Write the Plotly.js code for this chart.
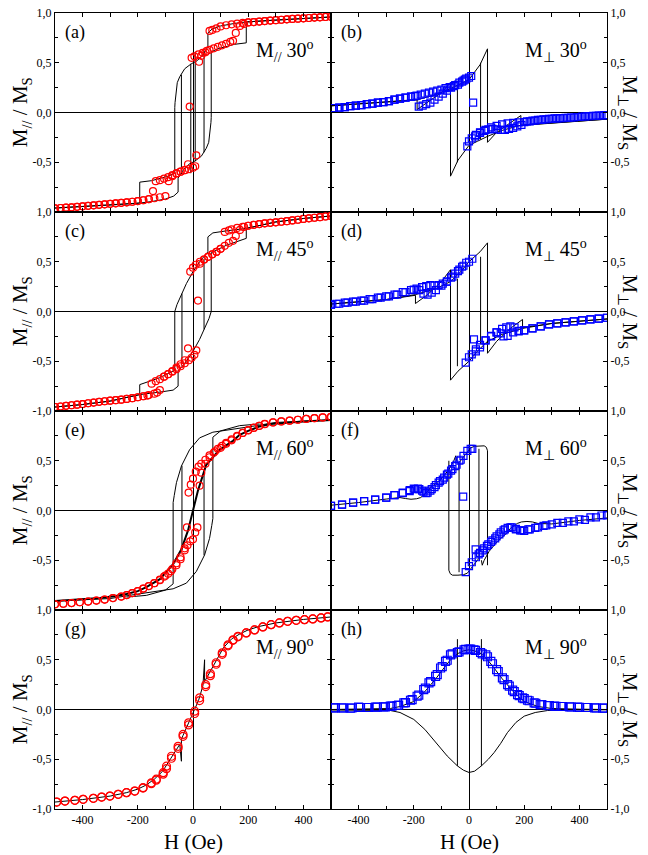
<!DOCTYPE html>
<html>
<head>
<meta charset="utf-8">
<script src="https://cdn.plot.ly/plotly-3.0.1.min.js"></script>
<style>html,body{margin:0;padding:0;background:#fff;}#chart{width:648px;height:855px;}</style>
</head>
<body>
<div id="chart"></div>
<script>
// ---------- Panel (a): M// 30deg ----------
var a_dn_H = [500,480,460,440,420,400,380,360,340,320,300,280,260,240,220,200,180,160,140,120,100,85,70,60,50,35,20,5,-5,-12,-18,-30,-45,-60,-75,-90,-105,-120,-135,-145,-160,-180,-200,-220,-240,-260,-280,-300,-320,-340,-360,-380,-400,-420,-440,-460,-480,-500];
var a_dn_M = [0.962,0.96,0.957,0.954,0.95,0.946,0.943,0.94,0.936,0.932,0.928,0.924,0.919,0.914,0.909,0.905,0.9,0.893,0.886,0.877,0.865,0.845,0.83,0.82,0.62,0.60,0.585,0.565,0.55,0.06,-0.52,-0.58,-0.595,-0.61,-0.63,-0.65,-0.665,-0.68,-0.69,-0.79,-0.87,-0.882,-0.89,-0.897,-0.903,-0.908,-0.913,-0.918,-0.923,-0.928,-0.933,-0.938,-0.943,-0.948,-0.953,-0.957,-0.96,-0.963];
var a_up_H = [-500,-480,-460,-440,-420,-400,-380,-360,-340,-320,-300,-280,-260,-240,-220,-200,-180,-160,-140,-120,-100,-88,-75,-60,-45,-30,-15,0,8,12,22,30,45,60,75,90,105,120,135,145,155,170,185,200,220,240,260,280,300,320,340,360,380,400,420,440,460,480,500];
var a_up_M = [-0.963,-0.96,-0.957,-0.953,-0.948,-0.943,-0.938,-0.933,-0.928,-0.923,-0.918,-0.913,-0.908,-0.903,-0.897,-0.89,-0.882,-0.872,-0.862,-0.852,-0.84,-0.69,-0.64,-0.615,-0.595,-0.58,-0.57,-0.555,-0.54,-0.43,0.51,0.57,0.605,0.63,0.645,0.66,0.675,0.69,0.71,0.72,0.80,0.87,0.89,0.905,0.909,0.914,0.919,0.924,0.928,0.932,0.936,0.94,0.943,0.946,0.95,0.954,0.957,0.96,0.962];
var a_sim_H = [500,400,300,193,150,100,70,54,54,36,15,-6,-30,-48,-57,-62,-65,-66,-66,-90,-120,-150,-193,-193,-300,-400,-500,null,
               -500,-400,-300,-193,-150,-100,-70,-54,-54,-36,-15,6,30,48,57,62,65,66,66,90,120,150,193,193,300,400,500,null,
               -8,-8,null,8,8,null,-42,-42,null,40,40];
var a_sim_M = [0.96,0.945,0.93,0.91,0.895,0.87,0.84,0.80,0.66,0.58,0.52,0.49,0.44,0.36,0.30,0.20,0.10,0.05,-0.61,-0.64,-0.665,-0.685,-0.70,-0.91,-0.93,-0.945,-0.96,null,
               -0.96,-0.945,-0.93,-0.91,-0.895,-0.87,-0.84,-0.80,-0.66,-0.58,-0.52,-0.49,-0.44,-0.36,-0.30,-0.20,-0.10,-0.05,0.61,0.64,0.665,0.685,0.70,0.91,0.93,0.945,0.96,null,
               0.49,-0.61,null,0.61,-0.49,null,0.38,-0.62,null,0.62,-0.40];

// ---------- Panel (b): Mperp 30deg ----------
var b_dn_H = [500,480,460,440,420,400,380,360,340,320,300,280,260,240,220,200,180,160,140,120,100,80,60,40,25,10,0,-6,-15,-25,-40,-55,-70,-85,-100,-115,-130,-145,-160,-175,-190,-210,-230,-250,-270,-290,-310,-330,-350,-370,-390,-410,-430,-450,-470,-490];
var b_dn_M = [-0.027,-0.03,-0.033,-0.037,-0.04,-0.045,-0.05,-0.053,-0.057,-0.06,-0.065,-0.07,-0.075,-0.082,-0.09,-0.097,-0.10,-0.105,-0.11,-0.12,-0.135,-0.15,-0.175,-0.20,-0.225,-0.26,-0.29,-0.34,0.33,0.31,0.28,0.265,0.255,0.245,0.23,0.22,0.21,0.20,0.19,0.18,0.17,0.16,0.15,0.14,0.13,0.115,0.105,0.10,0.09,0.085,0.075,0.07,0.065,0.055,0.05,0.045];
var b_up_H = [-490,-470,-450,-430,-410,-390,-370,-350,-330,-310,-290,-270,-250,-230,-210,-195,-182,-168,-155,-140,-125,-110,-95,-80,-65,-50,-35,-20,-10,0,8,15,22,40,55,70,85,100,115,130,145,160,175,190,210,230,250,270,290,310,330,350,370,390,410,430,450,470,490];
var b_up_M = [0.045,0.05,0.055,0.065,0.07,0.075,0.085,0.09,0.10,0.105,0.115,0.13,0.14,0.15,0.16,0.165,0.06,0.07,0.085,0.10,0.13,0.16,0.19,0.22,0.25,0.275,0.30,0.32,0.34,0.35,0.367,0.10,-0.24,-0.205,-0.185,-0.17,-0.165,-0.17,-0.175,-0.175,-0.165,-0.155,-0.14,-0.125,-0.09,-0.082,-0.075,-0.07,-0.065,-0.06,-0.057,-0.053,-0.05,-0.045,-0.04,-0.037,-0.033,-0.03,-0.027];
var b_sim_H = [500,400,300,188,188,150,100,67,67,40,20,0,-30,-67,-120,-188,-300,-400,-500,null,
               -500,-400,-300,-188,-188,-150,-100,-67,-67,-40,-20,0,30,67,120,188,300,400,500,null,
               -42,-42,null,42,42];
var b_sim_M = [-0.067,-0.085,-0.105,-0.13,-0.03,-0.10,-0.20,-0.30,0.64,0.48,0.40,0.33,0.29,0.24,0.18,0.127,0.105,0.085,0.067,null,
               0.067,0.085,0.105,0.13,0.03,0.10,0.20,0.30,-0.64,-0.48,-0.40,-0.33,-0.29,-0.24,-0.18,-0.127,-0.105,-0.085,-0.067,null,
               0.27,-0.50,null,0.50,-0.27];

// ---------- Panel (c): M// 45deg ----------
var c_dn_H = [500,480,460,440,420,400,380,360,340,320,300,280,260,240,220,200,180,160,140,130,115,100,85,70,55,40,25,10,0,-10,-18,-30,-45,-60,-75,-90,-105,-120,-135,-150,-165,-180,-200,-220,-240,-260,-280,-300,-320,-340,-360,-380,-400,-420,-440,-460,-480,-500];
var c_dn_M = [0.96,0.955,0.948,0.942,0.936,0.93,0.922,0.915,0.908,0.902,0.896,0.891,0.886,0.879,0.871,0.862,0.852,0.84,0.826,0.815,0.80,0.63,0.60,0.575,0.55,0.525,0.50,0.47,0.44,0.40,-0.37,-0.49,-0.53,-0.565,-0.60,-0.63,-0.655,-0.68,-0.70,-0.725,-0.845,-0.852,-0.862,-0.871,-0.879,-0.886,-0.891,-0.896,-0.902,-0.908,-0.915,-0.922,-0.93,-0.936,-0.942,-0.948,-0.955,-0.96];
var c_up_H = [-500,-480,-460,-440,-420,-400,-380,-360,-340,-320,-300,-280,-260,-240,-220,-200,-180,-160,-140,-130,-120,-105,-90,-75,-60,-45,-30,-15,-5,5,12,18,25,40,55,70,85,100,115,130,145,155,170,185,200,220,240,260,280,300,320,340,360,380,400,420,440,460,480,500];
var c_up_M = [-0.96,-0.955,-0.948,-0.942,-0.936,-0.93,-0.922,-0.915,-0.908,-0.902,-0.896,-0.891,-0.886,-0.879,-0.871,-0.862,-0.852,-0.84,-0.826,-0.815,-0.79,-0.655,-0.63,-0.605,-0.58,-0.55,-0.52,-0.49,-0.465,-0.435,-0.39,0.11,0.48,0.52,0.55,0.575,0.60,0.63,0.66,0.69,0.71,0.76,0.82,0.85,0.862,0.871,0.879,0.886,0.891,0.896,0.902,0.908,0.915,0.922,0.93,0.936,0.942,0.948,0.955,0.96];
var c_sim_H = [500,400,300,193,120,72,54,54,24,0,-24,-42,-58,-66,-66,-120,-193,-193,-300,-400,-500,null,
               -500,-400,-300,-193,-120,-72,-54,-54,-24,0,24,42,58,66,66,120,193,193,300,400,500,null,
               -40,-40,null,40,40];
var c_sim_M = [0.96,0.935,0.90,0.835,0.81,0.79,0.75,0.60,0.50,0.40,0.28,0.17,0.07,0.0,-0.59,-0.665,-0.735,-0.835,-0.90,-0.935,-0.96,null,
               -0.96,-0.935,-0.90,-0.835,-0.81,-0.79,-0.75,-0.60,-0.50,-0.40,-0.28,-0.17,-0.07,0.0,0.59,0.665,0.735,0.835,0.90,0.935,0.96,null,
               0.18,-0.53,null,0.53,-0.18];

// ---------- Panel (d): Mperp 45deg ----------
var d_dn_H = [500,470,440,410,380,350,320,290,260,230,200,180,165,150,135,120,100,80,60,40,25,10,0,-12,-20,-35,-50,-65,-80,-95,-110,-125,-140,-155,-170,-190,-210,-240,-270,-300,-330,-360,-390,-420,-450,-480,-500];
var d_dn_M = [-0.063,-0.072,-0.08,-0.09,-0.10,-0.11,-0.12,-0.13,-0.15,-0.17,-0.19,-0.195,-0.16,-0.15,-0.16,-0.175,-0.21,-0.245,-0.29,-0.335,-0.38,-0.43,-0.46,-0.513,0.46,0.42,0.38,0.34,0.30,0.28,0.265,0.26,0.265,0.255,0.245,0.23,0.215,0.195,0.17,0.153,0.14,0.125,0.11,0.10,0.09,0.078,0.07];
var d_up_H = [-500,-470,-440,-410,-380,-350,-320,-290,-260,-230,-200,-180,-165,-150,-135,-120,-100,-80,-60,-40,-25,-10,0,12,18,25,40,60,80,100,115,125,140,160,180,200,230,260,290,320,350,380,410,440,470,500];
var d_up_M = [0.07,0.078,0.09,0.10,0.11,0.125,0.14,0.153,0.17,0.195,0.22,0.215,0.18,0.17,0.19,0.215,0.26,0.30,0.35,0.405,0.45,0.49,0.50,0.53,-0.28,-0.40,-0.36,-0.29,-0.25,-0.21,-0.22,-0.25,-0.245,-0.21,-0.20,-0.19,-0.17,-0.15,-0.13,-0.12,-0.11,-0.10,-0.09,-0.08,-0.072,-0.063];
var d_sim_H = [500,400,300,194,194,150,100,67,67,40,20,0,-30,-67,-120,-194,-300,-400,-500,null,
               -500,-400,-300,-194,-194,-150,-100,-67,-67,-40,-20,0,30,67,120,194,300,400,500,null,
               -42,-42,null,42,42];
var d_sim_M = [-0.075,-0.095,-0.12,-0.163,-0.08,-0.17,-0.30,-0.42,0.69,0.60,0.55,0.50,0.40,0.30,0.23,0.17,0.12,0.095,0.075,null,
               0.075,0.095,0.12,0.163,0.08,0.17,0.30,0.42,-0.69,-0.60,-0.55,-0.50,-0.40,-0.30,-0.23,-0.17,-0.12,-0.095,-0.075,null,
               0.33,-0.55,null,0.55,-0.33];

// ---------- Panel (e): M// 60deg ----------
var e_dn_H = [500,470,440,410,380,350,320,290,260,240,220,200,180,160,140,120,100,80,60,45,30,20,10,0,-8,-16,-22,-30,-45,-60,-75,-90,-105,-120,-140,-160,-180,-200,-220,-240,-260,-290,-320,-350,-380,-410,-440,-470,-500];
var e_dn_M = [0.94,0.935,0.928,0.92,0.912,0.903,0.895,0.885,0.87,0.852,0.832,0.808,0.78,0.745,0.705,0.67,0.63,0.595,0.555,0.51,0.47,0.44,0.39,0.32,0.26,0.18,-0.17,-0.38,-0.47,-0.53,-0.59,-0.635,-0.665,-0.695,-0.73,-0.76,-0.785,-0.81,-0.83,-0.85,-0.865,-0.88,-0.895,-0.905,-0.915,-0.922,-0.93,-0.937,-0.943];
var e_up_H = [-500,-470,-440,-410,-380,-350,-320,-290,-260,-240,-220,-200,-180,-160,-140,-120,-100,-80,-60,-45,-30,-20,-10,0,8,16,24,30,45,60,75,90,105,120,140,160,180,200,220,240,260,290,320,350,380,410,440,470,500];
var e_up_M = [-0.943,-0.937,-0.93,-0.922,-0.915,-0.905,-0.895,-0.88,-0.865,-0.85,-0.83,-0.81,-0.785,-0.76,-0.73,-0.70,-0.655,-0.61,-0.55,-0.49,-0.40,-0.35,-0.31,-0.29,-0.22,-0.17,0.25,0.38,0.47,0.535,0.58,0.62,0.65,0.68,0.715,0.75,0.78,0.805,0.83,0.85,0.868,0.885,0.895,0.903,0.912,0.92,0.928,0.935,0.94];
var e_simS_H = [-500,-400,-337,-280,-241,-200,-169,-120,-72,-42,-18,0,18,48,96,145,169,200,241,280,337,400,500];
var e_simS_M = [-0.91,-0.895,-0.88,-0.86,-0.84,-0.81,-0.77,-0.69,-0.54,-0.39,-0.20,0.0,0.20,0.46,0.61,0.70,0.76,0.80,0.845,0.87,0.885,0.895,0.91];
var e_sim_H = [500,300,217,145,72,24,-12,-42,-60,-68,-72,-72,-100,-169,-241,null,
               -500,-300,-217,-145,-72,-24,12,42,60,68,72,72,100,169,241,null,
               -40,-40,null,40,40];
var e_sim_M = [0.91,0.885,0.847,0.82,0.787,0.73,0.613,0.447,0.28,0.15,0.08,-0.737,-0.80,-0.853,-0.87,null,
               -0.91,-0.885,-0.847,-0.82,-0.787,-0.73,-0.613,-0.447,-0.28,-0.15,-0.08,0.737,0.80,0.853,0.87,null,
               0.45,-0.40,null,0.40,-0.45];

// ---------- Panel (f): Mperp 60deg ----------
var f_dn_H = [500,460,420,380,340,300,270,240,215,190,170,150,130,115,100,85,70,55,40,25,10,0,-12,-21,-30,-45,-60,-75,-90,-105,-120,-135,-150,-165,-180,-195,-215,-240,-270,-300,-340,-380,-420,-460,-500];
var f_dn_M = [-0.047,-0.07,-0.095,-0.11,-0.125,-0.14,-0.155,-0.175,-0.19,-0.20,-0.185,-0.17,-0.19,-0.22,-0.26,-0.30,-0.34,-0.38,-0.425,-0.47,-0.52,-0.56,-0.62,0.14,0.51,0.46,0.415,0.37,0.33,0.295,0.255,0.215,0.18,0.19,0.215,0.215,0.195,0.175,0.155,0.13,0.11,0.095,0.08,0.06,0.047];
var f_up_H = [-500,-460,-420,-380,-340,-300,-270,-240,-215,-200,-185,-170,-155,-140,-125,-110,-95,-80,-65,-50,-35,-20,-6,6,12,24,35,50,65,80,95,110,125,140,155,170,185,200,220,250,280,320,360,400,440,480,500];
var f_up_M = [0.047,0.06,0.08,0.095,0.11,0.13,0.155,0.18,0.205,0.22,0.22,0.20,0.175,0.20,0.235,0.28,0.31,0.36,0.40,0.445,0.50,0.55,0.60,0.62,0.62,-0.39,-0.44,-0.40,-0.355,-0.315,-0.28,-0.24,-0.20,-0.175,-0.17,-0.19,-0.20,-0.205,-0.19,-0.17,-0.15,-0.125,-0.11,-0.09,-0.07,-0.05,-0.047];
var f_sim_H = [-500,-400,-300,-250,-230,-210,-190,-175,-150,-140,-103,-73,-55,-48,-45,null,
               500,400,300,250,230,210,190,175,150,140,103,73,55,48,45,null,
               -73,-73,-68,-60,-40,-20,-6,10,25,36,36,null,
               -36,-36,-25,-10,6,20,40,55,63,67,67];
var f_sim_M = [0.053,0.08,0.115,0.13,0.12,0.113,0.118,0.13,0.19,0.23,0.31,0.41,0.50,0.55,0.50,null,
               -0.075,-0.10,-0.135,-0.13,-0.115,-0.11,-0.115,-0.13,-0.18,-0.22,-0.31,-0.41,-0.50,-0.55,-0.50,null,
               0.50,-0.60,-0.635,-0.65,-0.65,-0.645,-0.63,-0.57,-0.52,-0.48,0.62,null,
               -0.62,0.48,0.52,0.57,0.63,0.645,0.65,0.65,0.635,0.60,-0.55];

// ---------- Panel (g): M// 90deg ----------
var g_H = [-494,-464,-428,-398,-361,-331,-301,-271,-241,-211,-181,-151,-133,-108,-96,-78,-54,-36,-16,6,24,46,63,84,106,127,145,163,193,223,253,283,313,343,374,404,434,464,488];
var g_dn_M = [-0.93,-0.92,-0.913,-0.903,-0.893,-0.88,-0.87,-0.853,-0.836,-0.82,-0.786,-0.736,-0.70,-0.635,-0.57,-0.47,-0.37,-0.25,-0.134,-0.017,0.117,0.25,0.36,0.47,0.57,0.65,0.70,0.735,0.77,0.80,0.83,0.853,0.87,0.886,0.896,0.903,0.91,0.92,0.93];
var g_up_M = [-0.93,-0.92,-0.913,-0.903,-0.893,-0.88,-0.87,-0.853,-0.836,-0.82,-0.79,-0.745,-0.71,-0.65,-0.595,-0.49,-0.39,-0.27,-0.155,-0.04,0.09,0.23,0.34,0.455,0.555,0.64,0.695,0.73,0.77,0.80,0.83,0.853,0.87,0.886,0.896,0.903,0.91,0.92,0.93];
var g_sim_H = [-500,-400,-300,-240,-200,-170,-140,-110,-80,-60,-48,-42,-42,-36,-20,0,20,36,42,42,48,60,80,110,140,170,200,240,300,400,500];
var g_sim_M = [-0.93,-0.905,-0.87,-0.835,-0.80,-0.76,-0.70,-0.62,-0.49,-0.40,-0.35,-0.52,-0.30,-0.26,-0.16,-0.05,0.09,0.24,0.50,0.28,0.31,0.37,0.48,0.62,0.71,0.76,0.80,0.835,0.87,0.905,0.93];

// ---------- Panel (h): Mperp 90deg ----------
var h_dn_H = [-491,-461,-430,-400,-370,-339,-309,-285,-261,-236,-212,-188,-164,-145,-121,-103,-85,-67,-42,-18,0,18,42,61,79,100,121,140,158,176,194,212,236,258,285,309,333,364,394,424,455,485];
var h_dn_M = [0.017,0.017,0.013,0.023,0.02,0.023,0.027,0.033,0.04,0.067,0.093,0.133,0.20,0.267,0.333,0.417,0.483,0.55,0.573,0.60,0.607,0.60,0.573,0.55,0.483,0.40,0.317,0.25,0.195,0.15,0.117,0.093,0.067,0.05,0.04,0.033,0.03,0.027,0.023,0.02,0.017,0.013];
var h_up_H = [-485,-455,-424,-394,-364,-333,-303,-279,-255,-230,-206,-182,-158,-139,-115,-97,-79,-61,-36,-12,6,24,48,67,85,106,127,146,164,182,200,218,242,264,291,315,339,370,400,430,461,491];
var h_up_M = [0.017,0.015,0.015,0.02,0.02,0.023,0.027,0.033,0.045,0.07,0.10,0.145,0.215,0.28,0.35,0.43,0.495,0.56,0.58,0.605,0.607,0.595,0.56,0.53,0.46,0.38,0.30,0.235,0.18,0.14,0.11,0.088,0.063,0.048,0.038,0.032,0.03,0.025,0.022,0.02,0.015,0.013];
var h_sim_H = [-500,-400,-285,-250,-200,-160,-120,-90,-67,-42,-20,0,20,45,67,90,120,160,200,250,300,400,500,null,
               -500,-400,-285,-250,-200,-160,-139,-100,-79,-42,-20,0,20,45,70,91,115,139,170,200,240,285,350,500,null,
               -42,-42,null,45,45];
var h_sim_M = [0.0,0.003,0.01,0.03,0.08,0.18,0.31,0.42,0.50,0.56,0.59,0.60,0.59,0.56,0.50,0.42,0.31,0.18,0.08,0.03,0.01,0.003,0.0,null,
               -0.005,-0.005,-0.01,-0.03,-0.10,-0.20,-0.267,-0.40,-0.467,-0.567,-0.61,-0.633,-0.62,-0.567,-0.50,-0.433,-0.34,-0.233,-0.13,-0.067,-0.03,-0.01,-0.003,-0.003,null,
               0.707,-0.567,null,0.707,-0.567];

// ---------- tick labels (only labelled ticks; the rest are minor ticks) ----------
var xTickVals = [-400,-200,0,200,400];
var xTickText = ['-400','-200','0','200','400'];
var yVals_a = [-0.5,0,0.5,1];   var yText_a = ['-0,5','0,0','0,5','1,0'];
var yVals_c = [-1,-0.5,0,0.5,1]; var yText_c = ['-1,0','-0,5','0,0','0,5','1,0'];
var yVals_e = [-0.5,0,0.5];     var yText_e = ['-0,5','0,0','0,5'];
var yVals_g = [-1,-0.5,0,0.5,1]; var yText_g = ['-1,0','-0,5','0,0','0,5','1,0'];
var yVals_b = [-0.5,0,0.5,1];   var yText_b = ['-0,5','0,0','0,5','1,0'];
var yVals_d = [-0.5,0,0.5,1];   var yText_d = ['-0,5','0,0','0,5','1,0'];
var yVals_f = [-0.5,0,0.5,1];   var yText_f = ['-0,5','0,0','0,5','1,0'];
var yVals_h = [-1,-0.5,0,0.5,1]; var yText_h = ['-1,0','-0,5','0,0','0,5','1,0'];

var panelLetters = ['(a)','(b)','(c)','(d)','(e)','(f)','(g)','(h)'];
var angleLabels = ['M<sub>//</sub> 30<sup>o</sup>','M<sub>⊥</sub> 30<sup>o</sup>','M<sub>//</sub> 45<sup>o</sup>','M<sub>⊥</sub> 45<sup>o</sup>','M<sub>//</sub> 60<sup>o</sup>','M<sub>⊥</sub> 60<sup>o</sup>','M<sub>//</sub> 90<sup>o</sup>','M<sub>⊥</sub> 90<sup>o</sup>'];
var xTitle = 'H (Oe)';
var yTitleLeft = 'M<sub>//</sub> / M<sub>S</sub>';
var yTitleRight = 'M<sub>⊥</sub> / M<sub>S</sub>';

var FONT = '"Liberation Serif", "Times New Roman", Times, serif';
var RED = '#ff0000', BLUE = '#0000ff';

var panels = [
  {dnH:a_dn_H, dnM:a_dn_M, upH:a_up_H, upM:a_up_M, simH:a_sim_H, simM:a_sim_M, yv:yVals_a, yt:yText_a},
  {dnH:b_dn_H, dnM:b_dn_M, upH:b_up_H, upM:b_up_M, simH:b_sim_H, simM:b_sim_M, yv:yVals_b, yt:yText_b},
  {dnH:c_dn_H, dnM:c_dn_M, upH:c_up_H, upM:c_up_M, simH:c_sim_H, simM:c_sim_M, yv:yVals_c, yt:yText_c},
  {dnH:d_dn_H, dnM:d_dn_M, upH:d_up_H, upM:d_up_M, simH:d_sim_H, simM:d_sim_M, yv:yVals_d, yt:yText_d},
  {dnH:e_dn_H, dnM:e_dn_M, upH:e_up_H, upM:e_up_M, simH:e_sim_H, simM:e_sim_M, yv:yVals_e, yt:yText_e, extraH:e_simS_H, extraM:e_simS_M},
  {dnH:f_dn_H, dnM:f_dn_M, upH:f_up_H, upM:f_up_M, simH:f_sim_H, simM:f_sim_M, yv:yVals_f, yt:yText_f},
  {dnH:g_H, dnM:g_dn_M, upH:g_H, upM:g_up_M, simH:g_sim_H, simM:g_sim_M, yv:yVals_g, yt:yText_g},
  {dnH:h_dn_H, dnM:h_dn_M, upH:h_up_H, upM:h_up_M, simH:h_sim_H, simM:h_sim_M, yv:yVals_h, yt:yText_h}
];

var traces = [];
var layout = {
  width:648, height:855,
  margin:{l:55, r:41, t:13, b:46},
  paper_bgcolor:'#ffffff', plot_bgcolor:'#ffffff',
  showlegend:false,
  font:{family:FONT, color:'#000'},
  annotations:[]
};

panels.forEach(function(p, i){
  var n = i + 1;
  var xa = 'x' + (n === 1 ? '' : n), ya = 'y' + (n === 1 ? '' : n);
  var right = (i % 2) === 1;
  var row = Math.floor(i / 2);
  var color = right ? BLUE : RED;
  var sym = right ? 'square-open' : 'circle-open';
  var msize = (i >= 6) ? 8 : 7;
  traces.push({type:'scatter', mode:'lines', x:p.simH, y:p.simM, xaxis:xa, yaxis:ya,
               line:{color:'#000', width:1}, connectgaps:false, hoverinfo:'skip'});
  if (p.extraH) {
    traces.push({type:'scatter', mode:'lines', x:p.extraH, y:p.extraM, xaxis:xa, yaxis:ya,
                 line:{color:'#000', width:2}, hoverinfo:'skip'});
  }
  traces.push({type:'scatter', mode:'markers', x:p.dnH, y:p.dnM, xaxis:xa, yaxis:ya,
               marker:{symbol:sym, size:msize, color:color, line:{width:1.2, color:color}}});
  traces.push({type:'scatter', mode:'markers', x:p.upH, y:p.upM, xaxis:xa, yaxis:ya,
               marker:{symbol:sym, size:msize, color:color, line:{width:1.2, color:color}}});

  var xd = right ? [0.5, 1] : [0, 0.5];
  var yd = [1 - (row + 1) * 0.25, 1 - row * 0.25];
  var axKey = 'xaxis' + (n === 1 ? '' : n), ayKey = 'yaxis' + (n === 1 ? '' : n);
  var xax = {
    domain:xd, anchor:ya, range:[-500,500], fixedrange:true,
    showline:true, linecolor:'#000', linewidth:1, mirror:'allticks',
    ticks:'inside', ticklen:4, tickwidth:1, tickcolor:'#000',
    zeroline:true, zerolinecolor:'#000', zerolinewidth:1, showgrid:false,
    tickfont:{family:FONT, size:12, color:'#000'}
  };
  if (row === 3) {
    xax.tickmode = 'array'; xax.tickvals = xTickVals; xax.ticktext = xTickText;
    xax.minor = {tickmode:'linear', tick0:-500, dtick:100, ticks:'inside', ticklen:3, tickcolor:'#000'};
  } else {
    xax.tickmode = 'linear'; xax.tick0 = -500; xax.dtick = 100; xax.showticklabels = false;
  }
  layout[axKey] = xax;
  layout[ayKey] = {
    domain:yd, anchor:xa, range:[-1,1], fixedrange:true, side: right ? 'right' : 'left',
    showline:true, linecolor:'#000', linewidth:1, mirror:'allticks',
    ticks:'inside', ticklen:4, tickwidth:1, tickcolor:'#000',
    tickmode:'array', tickvals:p.yv, ticktext:p.yt,
    tickfont:{family:FONT, size:12, color:'#000'},
    minor:{tickmode:'linear', tick0:0, dtick:0.25, ticks:'inside', ticklen:3, tickcolor:'#000'},
    zeroline:true, zerolinecolor:'#000', zerolinewidth:1, showgrid:false
  };
  layout.annotations.push({xref:xa + ' domain', yref:ya + ' domain', x:0.03, y:0.9,
    xanchor:'left', yanchor:'middle', showarrow:false, text:panelLetters[i], font:{family:FONT, size:18, color:'#000'}});
  layout.annotations.push({xref:xa + ' domain', yref:ya + ' domain', x: right ? 0.935 : 0.945, y:0.81,
    xanchor:'right', yanchor:'middle', showarrow:false, text:angleLabels[i], font:{family:FONT, size:20, color:'#000'}});
  layout.annotations.push({xref:'paper', yref:ya + ' domain', x: right ? 1.04 : -0.062, y:0.5,
    xanchor:'center', yanchor:'middle', showarrow:false, textangle: right ? 90 : -90,
    text: right ? yTitleRight : yTitleLeft, font:{family:FONT, size:21, color:'#000'}});
  if (row === 3) {
    layout.annotations.push({xref:xa + ' domain', yref:'paper', x:0.5, y:-0.041,
      xanchor:'center', yanchor:'middle', showarrow:false, text:xTitle, font:{family:FONT, size:21, color:'#000'}});
  }
});

Plotly.newPlot('chart', traces, layout, {displayModeBar:false, staticPlot:true});
</script>
</body>
</html>
